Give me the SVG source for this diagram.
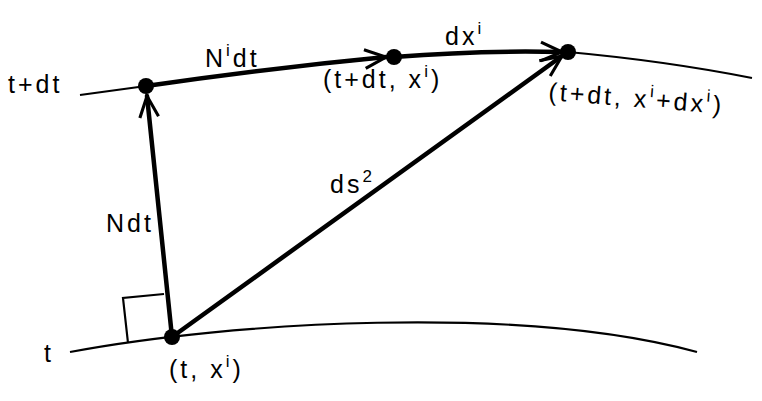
<svg xmlns="http://www.w3.org/2000/svg" width="762" height="401" viewBox="0 0 762 401">
<defs>
<marker id="chev" markerUnits="userSpaceOnUse" markerWidth="30" markerHeight="30" refX="0" refY="0" viewBox="-20 -12 24 24" orient="auto" overflow="visible">
<path d="M-17,-7.5 L0,0 L-17,7.5" fill="none" stroke="#000" stroke-width="2.5" stroke-linejoin="miter"/>
</marker>
<style>
.thin{fill:none;stroke:#000;stroke-width:2.2}
.thick{fill:none;stroke:#000;stroke-width:4.5;stroke-linecap:round}
.lbl{font-family:"Liberation Sans",Arial,sans-serif;font-size:25px;fill:#000;letter-spacing:3px}
.sup{font-size:17px}
</style>
</defs>
<rect width="762" height="401" fill="#fff"/>
<g id="curves">
<path class="thin" d="M80,95 L146,86 Q270,68 394,57 Q480,50 568,52 Q666,61 752,78"/>
<path class="thin" d="M70,352 C230,322 520,304 697,352"/>
<path class="thin" d="M128,343 L123,298 L164,294"/>
</g>
<g id="connectors">
<path class="thick" d="M146,86 Q270,68 386,57" marker-end="url(#chev)"/>
<path class="thick" d="M394,57 Q480,50 562,52" marker-end="url(#chev)"/>
<path class="thick" d="M172,337 L147,96" marker-end="url(#chev)"/>
<path class="thick" d="M172,337 L562,56" marker-end="url(#chev)"/>
</g>
<g id="n-A"><circle cx="146" cy="86" r="8"/></g>
<g id="n-B"><circle cx="394" cy="57" r="8"/></g>
<g id="n-C"><circle cx="568" cy="52" r="8"/></g>
<g id="n-D"><circle cx="172" cy="337" r="8"/></g>
<g id="labels">
<text class="lbl" x="8" y="93">t+dt</text>
<text class="lbl" x="205" y="67">N<tspan class="sup" dy="-11">i</tspan><tspan dy="11">dt</tspan></text>
<text class="lbl" x="323" y="88">(t+dt, x<tspan class="sup" dy="-11">i</tspan><tspan dy="11">)</tspan></text>
<text class="lbl" x="445" y="45">dx<tspan class="sup" dy="-11">i</tspan></text>
<text class="lbl" x="548" y="100" transform="rotate(4.5 548 100)">(t+dt, x<tspan class="sup" dy="-11">i</tspan><tspan dy="11">+dx</tspan><tspan class="sup" dy="-11">i</tspan><tspan dy="11">)</tspan></text>
<text class="lbl" x="330" y="193">ds<tspan class="sup" dy="-11">2</tspan></text>
<text class="lbl" x="106" y="232">Ndt</text>
<text class="lbl" x="44" y="362">t</text>
<text class="lbl" x="169" y="378">(t, x<tspan class="sup" dy="-11">i</tspan><tspan dy="11">)</tspan></text>
</g>
</svg>
